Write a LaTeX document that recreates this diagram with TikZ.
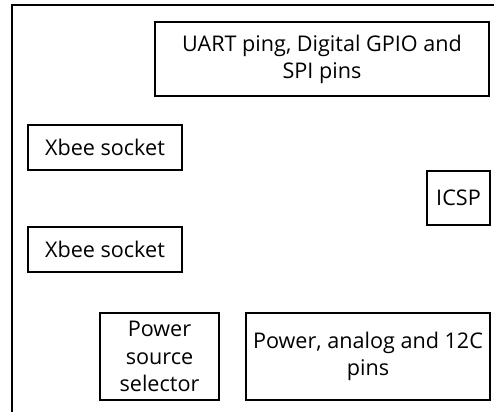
\documentclass[tikz,border=0pt]{standalone}
\usepackage{fontspec}
\setmainfont{Open Sans}
\usepackage{tikz}

\begin{document}
\begin{tikzpicture}[x=0.5pt, y=-0.5pt,
    box/.style={draw, rectangle, line width=0.7pt, inner sep=0pt, align=center,
        font=\fontsize{10.8}{13.6}\selectfont}]
    \useasboundingbox (0,0) rectangle (494,412);
    \coordinate (tl) at (12,5);
    \coordinate (tr) at (494,5);
    \coordinate (bl) at (12,412);
    \draw[line width=0.9pt] (tr) -- (tl) -- (bl);

    \node[box, minimum width=167pt, minimum height=37pt] (uart) at (322,59) {UART ping, Digital GPIO and\\SPI pins};
    \node[box, minimum width=77pt, minimum height=22.5pt] (xa) at (105,147.5) {Xbee socket};
    \node[box, minimum width=77pt, minimum height=22.5pt] (xb) at (105,249.5) {Xbee socket};
    \node[box, minimum width=31.5pt, minimum height=27pt] (icsp) at (458.5,198) {ICSP};
    \node[box, minimum width=59.5pt, minimum height=43.5pt] (pss) at (159.5,356.5) {Power\\source\\selector};
    \node[box, minimum width=122pt, minimum height=43.5pt] (pwr) at (368,356.5) {Power, analog and 12C\\pins};
\end{tikzpicture}
\end{document}
